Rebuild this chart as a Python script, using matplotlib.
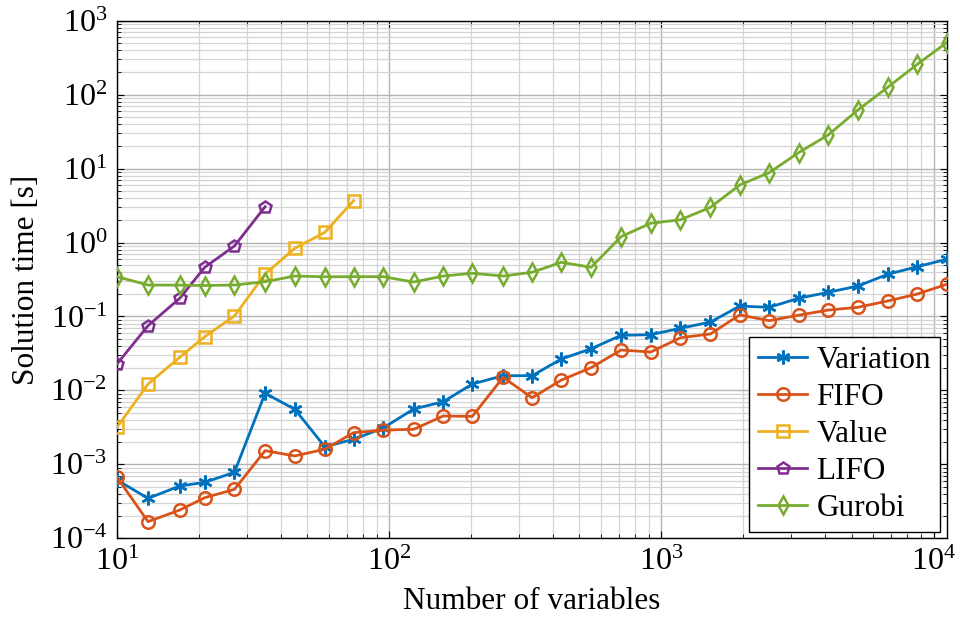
import numpy as np
import matplotlib
matplotlib.use("Agg")
import matplotlib.pyplot as plt
from matplotlib.ticker import LogLocator, NullFormatter

plt.rcParams['font.family'] = ['Liberation Serif', 'DejaVu Serif']
plt.rcParams['mathtext.fontset'] = 'stix'

# problem sizes (number of variables)
n_vars = [10, 13, 17, 21, 27, 35, 45, 58, 74, 95, 123, 158, 202, 262, 335,
          429, 552, 711, 913, 1175, 1514, 1940, 2489, 3190, 4101, 5271,
          6791, 8710, 11160]

# solution times in seconds
variation = [0.000614, 0.000347, 0.000509, 0.000571, 0.00078, 0.00914,
             0.00555, 0.00173, 0.00218, 0.0031, 0.0056, 0.00703, 0.0122,
             0.0158, 0.0158, 0.0266, 0.0366, 0.0556, 0.0566, 0.0692, 0.084,
             0.138, 0.133, 0.176, 0.212, 0.258, 0.372, 0.471, 0.593]
fifo = [0.000668, 0.000168, 0.000241, 0.000354, 0.000459, 0.00153, 0.0013,
        0.0016, 0.00268, 0.0029, 0.00298, 0.00451, 0.00445, 0.015, 0.00796,
        0.0138, 0.0203, 0.0352, 0.033, 0.0516, 0.058, 0.105, 0.0877, 0.104,
        0.122, 0.133, 0.162, 0.201, 0.272]
value = [0.00317, 0.0122, 0.0281, 0.0532, 0.1014, 0.375, 0.835, 1.37, 3.68]
lifo = [0.0228, 0.075, 0.176, 0.462, 0.897, 3.05]
gurobi = [0.345, 0.266, 0.265, 0.262, 0.266, 0.295, 0.352, 0.344, 0.345,
          0.345, 0.292, 0.352, 0.384, 0.352, 0.396, 0.54, 0.462, 1.2, 1.82,
          2.03, 2.99, 6.0, 8.8, 16.4, 28.5, 62, 126, 257, 504]

# asterisk marker: six spokes
asterisk = (6, 2, 0)

series = [
    ("Variation", variation, "#0072BD", asterisk, 10),
    ("FIFO", fifo, "#D95319", "o", 9),
    ("Value", value, "#EDB120", "s", 8.5),
    ("LIFO", lifo, "#7E2F8E", "p", 9),
    ("Gurobi", gurobi, "#77AC30", "d", 9),
]

fig = plt.figure(figsize=(9.6, 6.21), dpi=100)
ax = fig.add_axes([0.1219, 0.1332, 0.8641, 0.8335])

for name, ys, col, mk, ms in series:
    ax.plot(n_vars[:len(ys)], ys, color=col, lw=2.0, marker=mk, ms=ms,
            mfc='none', mec=col, mew=1.8, label=name, zorder=3)

ax.set_xscale('log')
ax.set_yscale('log')
ax.set_xlim(10, n_vars[-1])
ax.set_ylim(1e-4, 1e3)

ax.xaxis.set_major_locator(LogLocator(base=10, numticks=10))
ax.yaxis.set_major_locator(LogLocator(base=10, numticks=10))
ax.xaxis.set_minor_locator(LogLocator(base=10, subs=np.arange(2, 10), numticks=20))
ax.yaxis.set_minor_locator(LogLocator(base=10, subs=np.arange(2, 10), numticks=20))
ax.xaxis.set_minor_formatter(NullFormatter())
ax.yaxis.set_minor_formatter(NullFormatter())

ax.grid(True, which='major', color='#b4b4b4', lw=1.0, zorder=0)
ax.grid(True, which='minor', color='#d4d4d4', lw=0.9, zorder=0)
ax.set_axisbelow(True)

ax.tick_params(which='both', direction='in', top=True, right=True,
               labelsize=23, colors='black')
ax.tick_params(which='minor', labelbottom=False, labelleft=False)
ax.tick_params(which='major', length=5, width=0.8)
ax.tick_params(which='minor', length=3, width=0.6)
ax.tick_params(axis='x', pad=7)
ax.tick_params(axis='y', pad=7)
for sp in ax.spines.values():
    sp.set_linewidth(1.0)

ax.set_xlabel("Number of variables", fontsize=22.5, labelpad=7)
ax.set_ylabel("Solution time [s]", fontsize=22.5, labelpad=6)

leg = ax.legend(loc='lower right', fontsize=22.5, frameon=True, fancybox=False,
                edgecolor='black', framealpha=1, handlelength=1.55,
                borderaxespad=0.2, labelspacing=0.25, handletextpad=0.3,
                borderpad=0.3)
leg.get_frame().set_linewidth(1.0)

fig.savefig("out.png", dpi=100)
